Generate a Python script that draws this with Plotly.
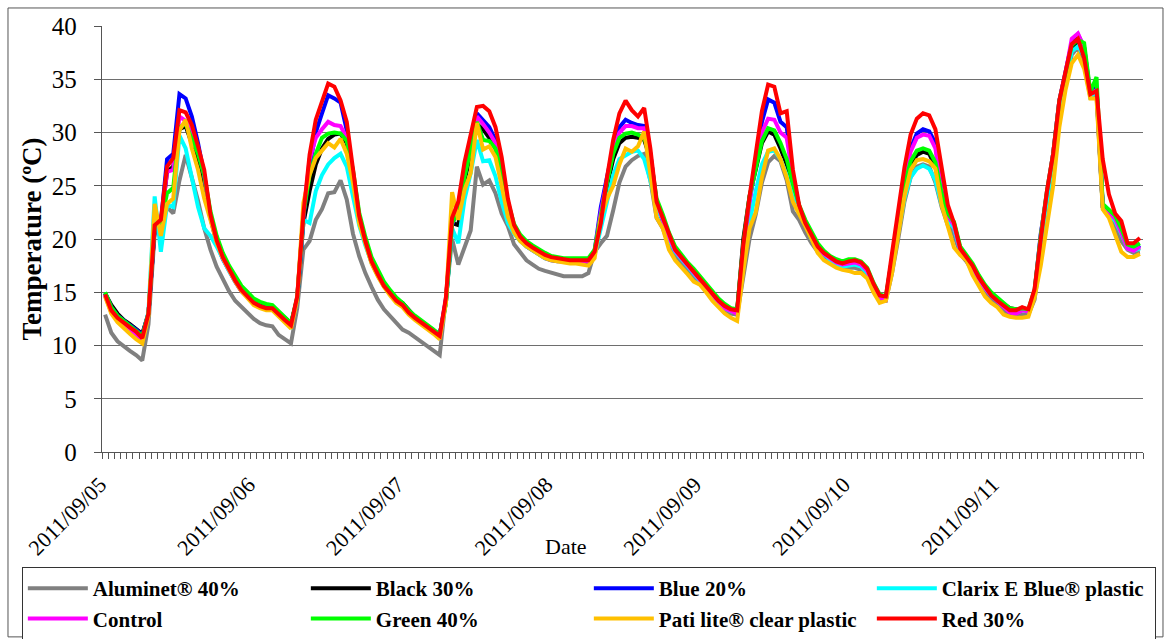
import pandas as pd
import plotly.graph_objects as go

# Hourly readings, 2011-09-05 00:00 through 2011-09-11 23:00
timestamps = pd.date_range("2011-09-05 00:00", periods=168, freq="h")

aluminet_40 = [
    12.9, 11.2, 10.4, 9.9, 9.5, 9.1, 8.6, 12.0, 20.5, 21.0, 23.0, 22.4, 25.5, 27.9, 25.9, 23.6, 21.0, 19.0, 17.4, 16.2, 15.1, 14.2, 13.6, 13.1,
    12.5, 12.1, 11.9, 11.8, 11.0, 10.6, 10.2, 13.5, 19.0, 19.8, 21.8, 22.8, 24.3, 24.4, 25.5, 23.7, 20.5, 18.4, 16.8, 15.5, 14.3, 13.4, 12.8, 12.1,
    11.5, 11.2, 10.8, 10.3, 9.9, 9.5, 9.1, 14.5, 20.0, 17.6, 19.2, 20.8, 26.8, 25.1, 25.5, 24.3, 22.4, 21.2, 19.5, 18.7, 18.0, 17.6, 17.2, 17.0,
    16.8, 16.6, 16.5, 16.5, 16.5, 16.5, 16.8, 18.8, 19.6, 20.3, 22.7, 25.3, 26.8, 27.4, 27.8, 28.0, 25.5, 22.0, 21.0, 19.4, 18.3, 17.7, 17.0, 16.4,
    16.0, 15.3, 14.5, 13.9, 13.4, 13.0, 12.9, 16.5, 20.0, 22.3, 25.3, 27.2, 27.8, 27.3, 25.5, 22.6, 21.8, 20.6, 19.6, 18.8, 18.2, 17.8, 17.5, 17.3,
    17.3, 17.3, 17.1, 16.5, 15.2, 14.2, 14.2, 16.8, 20.0, 23.5, 25.8, 26.8, 27.0, 26.8, 25.3, 23.0, 21.3, 20.4, 18.6, 17.9, 17.0, 15.9, 15.0, 14.3,
    13.8, 13.2, 12.8, 12.8, 12.9, 12.9, 14.3, 18.5, 22.5, 26.5, 31.5, 34.5, 37.3, 38.0, 36.5, 33.3, 33.5, 23.0, 22.2, 21.2, 19.8, 19.0, 18.7, 18.8,
]

black_30 = [
    14.9, 13.8, 13.0, 12.4, 12.0, 11.6, 11.1, 13.0, 21.0, 21.5, 26.3, 26.8, 30.3, 30.6, 29.0, 27.3, 25.2, 22.2, 19.8, 18.3, 17.2, 16.2, 15.3, 14.7,
    14.1, 13.8, 13.7, 13.6, 13.1, 12.6, 12.1, 14.3, 21.5, 24.5, 27.0, 28.5, 29.4, 29.8, 29.9, 29.0, 25.8, 21.8, 19.7, 17.9, 16.8, 15.8, 15.0, 14.3,
    14.0, 13.3, 12.7, 12.3, 11.9, 11.4, 11.0, 14.0, 21.5, 21.3, 25.5, 28.0, 30.8, 30.3, 29.5, 28.5, 26.2, 23.0, 21.0, 20.0, 19.4, 19.0, 18.6, 18.3,
    18.1, 18.0, 17.9, 17.9, 17.9, 17.9, 17.9, 18.7, 22.0, 25.0, 27.5, 29.0, 29.5, 29.6, 29.5, 29.3, 27.5, 23.3, 21.8, 20.1, 18.9, 18.2, 17.5, 16.9,
    16.2, 15.4, 14.7, 14.1, 13.6, 13.3, 13.2, 20.0, 24.0, 26.5, 29.0, 30.1, 29.8, 28.5, 27.0, 24.8, 22.8, 21.3, 20.1, 19.2, 18.5, 18.1, 17.7, 17.5,
    17.6, 17.7, 17.5, 16.9, 15.6, 14.6, 14.4, 18.0, 21.5, 24.8, 27.0, 27.9, 28.2, 28.0, 26.8, 24.0, 22.0, 21.2, 19.0, 18.2, 17.4, 16.4, 15.5, 14.8,
    14.3, 13.9, 13.5, 13.4, 13.4, 13.3, 14.8, 20.0, 24.0, 27.5, 32.5, 35.3, 38.0, 38.6, 37.5, 33.5, 34.0, 23.0, 22.5, 22.0, 20.7, 19.2, 19.0, 19.2,
]

blue_20 = [
    14.9, 13.6, 12.8, 12.3, 11.9, 11.5, 11.0, 13.0, 21.0, 21.6, 27.5, 28.0, 33.6, 33.2, 31.5, 29.0, 26.0, 22.0, 19.6, 18.1, 17.0, 16.0, 15.1, 14.5,
    14.0, 13.7, 13.6, 13.5, 13.0, 12.5, 12.0, 14.4, 22.0, 26.8, 30.0, 31.8, 33.5, 33.2, 32.8, 30.2, 26.3, 21.8, 19.6, 17.8, 16.6, 15.6, 14.9, 14.2,
    13.9, 13.2, 12.7, 12.3, 11.9, 11.4, 11.0, 14.3, 21.3, 23.0, 26.5, 29.5, 31.8, 31.2, 30.5, 29.3, 26.5, 23.3, 21.0, 19.9, 19.3, 18.9, 18.5, 18.2,
    18.0, 17.9, 17.9, 17.8, 17.8, 17.8, 17.8, 18.9, 23.0, 25.8, 28.5, 30.5, 31.2, 30.9, 30.7, 30.6, 28.0, 23.3, 21.8, 20.1, 18.9, 18.2, 17.5, 16.9,
    16.2, 15.4, 14.7, 14.1, 13.6, 13.3, 13.2, 19.0, 23.5, 27.0, 31.0, 33.1, 32.8, 31.0, 30.5, 26.0, 23.0, 21.3, 20.1, 19.2, 18.5, 18.1, 17.7, 17.5,
    17.6, 17.7, 17.5, 17.0, 15.6, 14.6, 14.4, 18.2, 21.8, 25.8, 28.5, 29.9, 30.3, 30.1, 29.0, 24.5, 22.3, 21.4, 19.1, 18.2, 17.4, 16.4, 15.5, 14.8,
    14.3, 13.9, 13.4, 13.3, 13.4, 13.3, 15.0, 20.5, 24.5, 28.0, 33.0, 35.5, 38.4, 39.2, 38.0, 33.6, 34.3, 23.2, 22.6, 22.0, 20.8, 19.2, 19.0, 19.4,
]

clarix_e_blue = [
    14.7, 13.3, 12.6, 12.1, 11.7, 11.2, 10.6, 13.2, 24.0, 18.8, 23.2, 23.0, 29.7, 28.5, 25.8, 23.0, 21.0, 20.3, 19.3, 18.1, 17.0, 16.0, 15.2, 14.6,
    14.0, 13.6, 13.4, 13.4, 12.8, 12.3, 11.8, 14.3, 21.8, 21.5, 24.5, 26.0, 27.0, 27.6, 28.0, 26.8, 24.0, 21.3, 19.4, 17.8, 16.6, 15.6, 14.8, 14.1,
    13.8, 13.1, 12.6, 12.2, 11.8, 11.3, 10.8, 14.0, 21.0, 19.6, 23.7, 26.2, 29.3, 27.3, 27.4, 25.9, 23.5, 21.5, 20.5, 19.8, 19.3, 18.9, 18.5, 18.2,
    18.2, 18.1, 18.0, 17.9, 17.9, 17.9, 17.9, 18.5, 21.0, 23.5, 26.0, 27.5, 27.8, 28.2, 28.3, 27.5, 25.5, 23.0, 21.8, 20.0, 18.8, 18.1, 17.4, 16.8,
    16.1, 15.3, 14.6, 14.0, 13.5, 13.2, 13.1, 17.5, 21.5, 24.5, 27.0, 28.2, 28.3, 27.5, 26.0, 24.0, 22.7, 21.2, 20.0, 19.1, 18.5, 18.0, 17.6, 17.4,
    17.5, 17.6, 17.4, 16.8, 15.5, 14.5, 14.3, 17.5, 20.8, 23.8, 25.8, 26.6, 26.9, 26.6, 25.5, 23.2, 21.8, 21.0, 18.9, 18.1, 17.3, 16.3, 15.4, 14.7,
    14.2, 13.8, 13.3, 13.2, 13.3, 13.2, 14.6, 19.5, 23.5, 27.5, 32.5, 35.0, 37.6, 38.1, 37.2, 33.4, 33.8, 23.0, 22.4, 21.7, 20.5, 19.1, 18.9, 19.1,
]

control = [
    14.7, 13.1, 12.4, 11.9, 11.4, 11.0, 10.5, 13.0, 21.2, 21.6, 26.3, 26.5, 31.5, 31.1, 30.0, 28.3, 26.0, 22.2, 19.8, 18.2, 17.0, 16.0, 15.1, 14.5,
    14.0, 13.6, 13.4, 13.4, 12.8, 12.2, 11.7, 14.5, 22.2, 27.5, 29.5, 30.3, 31.0, 30.7, 30.6, 29.5, 26.3, 22.0, 19.7, 17.9, 16.7, 15.6, 14.9, 14.2,
    13.8, 13.1, 12.6, 12.2, 11.8, 11.3, 10.8, 14.3, 21.5, 23.2, 26.5, 29.0, 31.5, 30.8, 30.0, 29.0, 26.5, 23.3, 21.1, 20.0, 19.4, 19.0, 18.6, 18.3,
    18.1, 18.0, 17.9, 17.9, 17.9, 17.9, 17.9, 18.8, 22.5, 25.5, 28.5, 30.0, 30.6, 30.6, 30.4, 30.4, 28.0, 23.5, 21.9, 20.2, 18.9, 18.2, 17.5, 16.9,
    16.2, 15.4, 14.7, 14.1, 13.5, 13.2, 13.0, 19.0, 23.5, 27.0, 30.0, 31.3, 31.2, 30.0, 29.5, 25.8, 23.0, 21.4, 20.2, 19.2, 18.6, 18.2, 17.8, 17.6,
    17.7, 17.8, 17.6, 17.0, 15.6, 14.5, 14.3, 18.3, 22.0, 25.5, 28.2, 29.5, 29.8, 29.7, 28.5, 24.3, 22.2, 21.3, 19.0, 18.2, 17.4, 16.3, 15.4, 14.7,
    14.2, 13.7, 13.1, 13.0, 13.3, 13.2, 15.0, 20.3, 24.5, 28.0, 33.0, 35.6, 38.8, 39.3, 38.0, 33.6, 34.0, 23.1, 22.5, 21.9, 20.6, 19.1, 18.9, 19.3,
]

green_40 = [
    15.0, 13.6, 12.8, 12.3, 11.9, 11.4, 10.9, 13.0, 21.2, 21.6, 24.3, 24.8, 30.5, 30.8, 29.5, 28.0, 26.0, 22.6, 20.3, 18.7, 17.5, 16.5, 15.6, 15.0,
    14.4, 14.1, 13.9, 13.8, 13.2, 12.6, 12.1, 14.5, 22.3, 26.0, 28.0, 29.5, 29.9, 30.0, 29.9, 29.2, 26.5, 22.5, 20.2, 18.3, 17.1, 16.0, 15.2, 14.5,
    14.0, 13.3, 12.8, 12.4, 12.0, 11.5, 11.0, 14.0, 21.5, 22.5, 25.8, 28.5, 31.0, 29.3, 29.2, 28.5, 26.3, 23.5, 21.4, 20.4, 19.8, 19.4, 19.0, 18.7,
    18.4, 18.3, 18.2, 18.2, 18.2, 18.2, 18.2, 19.0, 22.3, 25.3, 28.0, 29.5, 29.9, 30.0, 29.8, 29.5, 27.8, 23.8, 22.3, 20.6, 19.3, 18.5, 17.8, 17.2,
    16.5, 15.7, 15.0, 14.4, 13.9, 13.5, 13.4, 19.5, 24.0, 26.5, 29.2, 30.4, 30.2, 29.0, 27.5, 25.2, 23.2, 21.8, 20.6, 19.6, 18.9, 18.4, 18.1, 17.9,
    18.1, 18.1, 17.9, 17.3, 15.9, 14.8, 14.6, 18.3, 21.8, 25.0, 27.3, 28.3, 28.5, 28.3, 27.2, 24.3, 22.4, 21.6, 19.3, 18.5, 17.7, 16.6, 15.7, 15.0,
    14.5, 14.0, 13.5, 13.4, 13.5, 13.4, 15.2, 20.3, 24.5, 28.0, 33.0, 35.5, 38.2, 38.7, 38.4, 33.8, 35.2, 23.3, 22.8, 22.2, 21.0, 19.5, 19.3, 19.6,
]

pati_lite_clear = [
    14.6, 13.0, 12.2, 11.6, 11.1, 10.6, 10.2, 12.8, 23.3, 20.3, 23.3, 23.8, 30.2, 31.2, 28.5, 26.5, 23.8, 21.8, 19.7, 18.2, 17.0, 16.0, 15.1, 14.4,
    13.8, 13.5, 13.3, 13.3, 12.7, 12.1, 11.6, 14.3, 23.4, 26.0, 27.6, 28.3, 29.0, 28.6, 29.4, 28.0, 25.3, 21.5, 19.5, 17.7, 16.5, 15.5, 14.7, 14.0,
    13.6, 12.9, 12.4, 12.0, 11.6, 11.1, 10.6, 14.0, 24.4, 21.8, 24.6, 26.2, 30.9, 28.4, 28.7, 27.7, 25.0, 22.1, 20.6, 19.8, 19.3, 18.9, 18.5, 18.2,
    18.0, 17.9, 17.8, 17.7, 17.7, 17.6, 17.5, 18.2, 22.0, 23.8, 25.0, 27.0, 28.5, 28.2, 28.7, 30.1, 26.0, 22.0, 21.0, 19.0, 18.0, 17.4, 16.7, 16.0,
    15.7, 15.0, 14.2, 13.6, 13.0, 12.6, 12.3, 17.0, 21.0, 22.5, 25.8, 28.3, 28.5, 27.5, 25.8, 23.5, 22.4, 21.2, 20.0, 18.7, 18.0, 17.6, 17.3, 17.1,
    17.0, 16.8, 16.8, 16.3, 15.0, 14.0, 14.2, 16.8, 20.3, 24.0, 26.5, 27.4, 27.5, 27.3, 26.6, 23.2, 21.2, 19.2, 18.5, 18.0, 16.6, 15.5, 14.6, 14.0,
    13.6, 12.9, 12.7, 12.6, 12.6, 12.7, 14.5, 17.5, 21.5, 25.0, 30.5, 34.0, 36.5, 37.3, 36.0, 33.2, 33.2, 22.8, 22.0, 20.5, 18.8, 18.3, 18.3, 18.6,
]

red_30 = [
    14.8, 13.3, 12.6, 12.1, 11.7, 11.3, 10.7, 13.0, 21.3, 21.8, 26.8, 27.6, 32.1, 31.9, 30.7, 28.7, 26.5, 22.3, 19.9, 18.3, 17.1, 16.1, 15.2, 14.6,
    14.0, 13.7, 13.5, 13.5, 12.9, 12.4, 11.9, 14.6, 22.3, 27.9, 31.2, 33.0, 34.6, 34.3, 33.0, 31.0, 26.8, 22.2, 19.8, 17.9, 16.7, 15.6, 14.9, 14.2,
    13.8, 13.1, 12.6, 12.2, 11.8, 11.3, 10.9, 14.5, 22.0, 23.5, 27.2, 29.8, 32.4, 32.5, 32.0, 30.5, 27.7, 23.8, 21.3, 20.2, 19.6, 19.2, 18.8, 18.5,
    18.3, 18.2, 18.1, 18.0, 18.0, 18.0, 18.0, 18.8, 21.5, 25.8, 29.3, 31.8, 33.0, 32.1, 31.5, 32.3, 28.5, 23.5, 22.0, 20.3, 19.0, 18.3, 17.6, 17.0,
    16.3, 15.5, 14.8, 14.2, 13.7, 13.4, 13.3, 19.5, 24.0, 28.0, 32.0, 34.5, 34.3, 31.8, 32.0, 26.5, 23.2, 21.5, 20.3, 19.3, 18.7, 18.3, 17.9, 17.7,
    17.9, 18.0, 17.8, 17.2, 15.8, 14.7, 14.6, 18.7, 22.5, 26.7, 29.8, 31.3, 31.8, 31.6, 30.3, 27.0, 23.2, 21.5, 19.1, 18.3, 17.5, 16.4, 15.5, 14.7,
    14.2, 13.8, 13.3, 13.3, 13.6, 13.4, 15.3, 20.0, 24.5, 28.0, 33.0, 35.7, 38.3, 38.8, 37.0, 33.6, 33.9, 27.5, 24.2, 22.4, 21.7, 19.6, 19.6, 20.1,
]

series_names = [
    "Aluminet® 40%", "Black 30%", "Blue 20%", "Clarix E Blue® plastic",
    "Control", "Green 40%", "Pati lite® clear plastic", "Red 30%",
]
series_values = [
    aluminet_40, black_30, blue_20, clarix_e_blue,
    control, green_40, pati_lite_clear, red_30,
]
series_colors = [
    "#808080", "#000000", "#0000FF", "#00FFFF",
    "#FF00FF", "#00FF00", "#FFC000", "#FF0000",
]

SERIF = "Liberation Serif"

fig = go.Figure()
for name, values, color in zip(series_names, series_values, series_colors):
    fig.add_trace(go.Scatter(
        x=timestamps, y=values, name=name, mode="lines",
        line=dict(color=color, width=4),
    ))

fig.update_layout(
    width=1171, height=639,
    margin=dict(l=102, r=28, t=26, b=187, autoexpand=False),
    paper_bgcolor="white", plot_bgcolor="white",
    font=dict(family=SERIF, color="black"),
    legend=dict(
        orientation="h",
        x=-0.077, xanchor="left",
        y=-0.27, yanchor="top",
        bordercolor="#333333", borderwidth=1,
        font=dict(family=SERIF, size=21, weight="bold", color="black"),
        itemwidth=60, entrywidth=208,
        traceorder="normal",
    ),
)

fig.update_yaxes(
    range=[0, 40], dtick=5, tick0=0,
    showgrid=True, gridcolor="#6e6e6e", gridwidth=1.3,
    showline=True, linecolor="#555555", linewidth=1.3,
    ticks="outside", ticklen=7, tickcolor="#555555",
    tickfont=dict(family=SERIF, size=25),
    ticklabelstandoff=12,
    zeroline=False,
    title=dict(text="Temperature (ºC)", standoff=2,
               font=dict(family=SERIF, size=27, weight="bold")),
)

fig.update_xaxes(
    type="date",
    range=["2011-09-04 23:30", "2011-09-11 23:30"],
    tick0="2011-09-05", dtick=86400000, tickformat="%Y/%m/%d",
    tickangle=-45, tickfont=dict(family=SERIF, size=22),
    ticklabelstandoff=10, ticklabelshift=-5,
    ticks="", showgrid=False, zeroline=False,
    showline=True, linecolor="#555555", linewidth=1.3,
    minor=dict(ticks="outside", ticklen=6, tickcolor="#555555",
               tick0="2011-09-04 23:30", dtick=3600000, showgrid=False),
)

fig.add_annotation(
    text="Date", xref="paper", yref="paper",
    x=0.4457, y=-0.223, xanchor="center", yanchor="middle",
    showarrow=False, font=dict(family=SERIF, size=22),
)

# Frame around the whole chart
fig.add_shape(
    type="rect", xref="paper", yref="paper",
    x0=-0.0903, x1=1.0192, y0=-0.434, y1=1.0423,
    line=dict(color="#555555", width=1), fillcolor="rgba(0,0,0,0)", layer="below",
)

fig.write_html("out.html", config={"displayModeBar": False})
